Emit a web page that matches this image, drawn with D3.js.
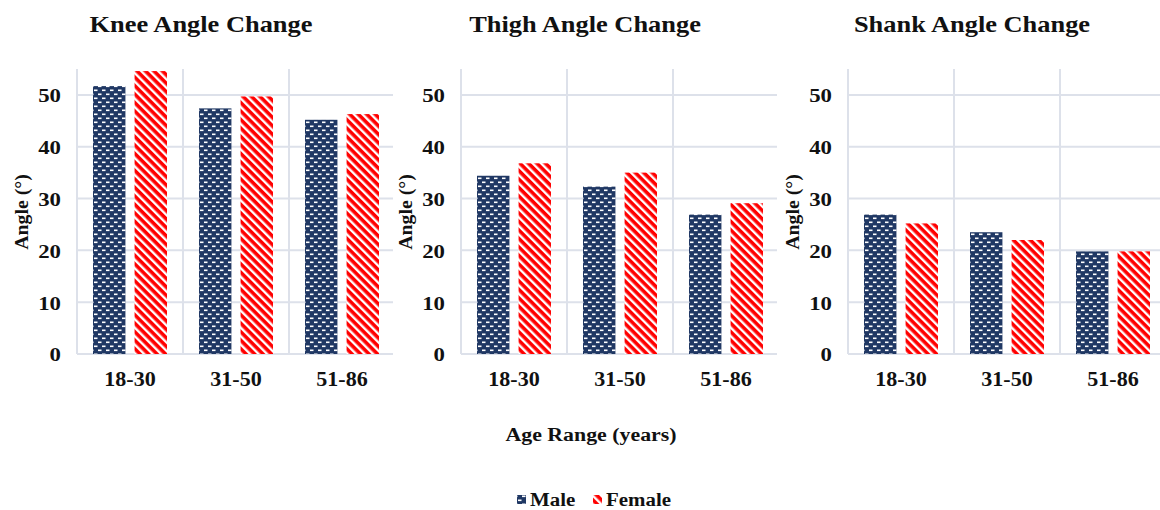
<!DOCTYPE html>
<html>
<head>
<meta charset="utf-8">
<script src="https://cdn.jsdelivr.net/npm/d3@7"></script>
<style>
  body { margin: 0; background: #fff; }
  svg text { font-family: "Liberation Serif", "Times New Roman", serif; font-weight: bold; fill: #111; }
</style>
</head>
<body>
<svg id="chart" width="1160" height="510"></svg>
<script>
const categories = ["18-30", "31-50", "51-86"];
const series = ["Male", "Female"];
const titles = ["Knee Angle Change", "Thigh Angle Change", "Shank Angle Change"];
const kneeMale = [51.7, 47.4, 45.2];
const kneeFemale = [54.6, 49.7, 46.3];
const thighMale = [34.4, 32.3, 26.9];
const thighFemale = [36.8, 35.0, 29.1];
const shankMale = [26.9, 23.5, 19.8];
const shankFemale = [25.2, 22.0, 19.8];
const yTicks = [0, 10, 20, 30, 40, 50];

const panels = [
  { title: titles[0], male: kneeMale, female: kneeFemale, left: 77 },
  { title: titles[1], male: thighMale, female: thighFemale, left: 461 },
  { title: titles[2], male: shankMale, female: shankFemale, left: 848 }
];

const svg = d3.select("#chart");
const gridColor = "#dde1ea";
const navy = "#203864";
const red = "#ff0000";

// fill patterns
const defs = svg.append("defs");
const pm = defs.append("pattern").attr("id", "pat-male")
  .attr("patternUnits", "userSpaceOnUse").attr("width", 8).attr("height", 8);
pm.append("rect").attr("width", 8).attr("height", 8).attr("fill", navy);
pm.append("rect").attr("x", 1).attr("y", 1.5).attr("width", 3.5).attr("height", 1.6).attr("fill", "#fff");
pm.append("rect").attr("x", 5).attr("y", 5.5).attr("width", 3.5).attr("height", 1.6).attr("fill", "#fff");
pm.append("rect").attr("x", -3).attr("y", 5.5).attr("width", 3.5).attr("height", 1.6).attr("fill", "#fff");

const pf = defs.append("pattern").attr("id", "pat-female")
  .attr("patternUnits", "userSpaceOnUse").attr("width", 6).attr("height", 6)
  .attr("patternTransform", "rotate(-45)");
pf.append("rect").attr("width", 6).attr("height", 6).attr("fill", red);
pf.append("rect").attr("x", 0).attr("y", 0).attr("width", 2.4).attr("height", 6).attr("fill", "#fff");

const fills = { Male: "url(#pat-male)", Female: "url(#pat-female)" };

const y = d3.scaleLinear().domain([0, 55]).range([354, 69]);

panels.forEach(p => {
  const g = svg.append("g");
  const x0 = d3.scaleBand().domain(categories).range([p.left, p.left + 318]);
  const x1 = d3.scaleBand().domain(series).range([16, x0.bandwidth() - 16]).paddingInner(0.22);

  // grid
  g.selectAll(".hgrid").data(yTicks).join("line")
    .attr("x1", p.left).attr("x2", p.left + 316)
    .attr("y1", d => y(d)).attr("y2", d => y(d))
    .attr("stroke", gridColor).attr("stroke-width", 2);
  g.selectAll(".vgrid").data(categories).join("line")
    .attr("x1", d => x0(d)).attr("x2", d => x0(d))
    .attr("y1", y(55)).attr("y2", y(0))
    .attr("stroke", gridColor).attr("stroke-width", 2);

  // bars
  const rows = categories.map((c, i) => ({ c, vals: [
    { s: "Male", v: p.male[i] }, { s: "Female", v: p.female[i] }] }));
  g.selectAll(".cat").data(rows).join("g")
    .attr("transform", d => `translate(${x0(d.c)},0)`)
    .selectAll("rect").data(d => d.vals).join("rect")
    .attr("x", d => x1(d.s))
    .attr("width", x1.bandwidth())
    .attr("y", d => y(d.v))
    .attr("height", d => y(0) - y(d.v))
    .attr("fill", d => fills[d.s]);

  // axes
  const ya = g.append("g").attr("transform", `translate(${p.left - 16},0)`)
    .call(d3.axisLeft(y).tickValues(yTicks).tickSize(0).tickPadding(0));
  ya.select(".domain").remove();
  ya.selectAll("text").style("font-size", "19px").attr("fill", "#111")
    .attr("dy", "0.36em").attr("transform", "scale(1.2,1)");

  const xa = g.append("g").attr("transform", `translate(0,${y(0)})`)
    .call(d3.axisBottom(x0).tickSize(0).tickPadding(0));
  xa.select(".domain").remove();
  xa.selectAll("text").style("font-size", "21px").attr("fill", "#111")
    .attr("dy", 0).attr("y", 32).attr("transform", "scale(1.05,1)");

  // title
  g.append("text").attr("transform", `translate(${x0.range()[0] + 124},32) scale(1.1,1)`)
    .attr("text-anchor", "middle").style("font-size", "24px").text(p.title);

  // y label
  g.append("text")
    .attr("transform", `translate(${p.left - 49},${212}) rotate(-90) scale(1.1,1)`)
    .attr("text-anchor", "middle").style("font-size", "18px").text("Angle (°)");
});

svg.append("text").attr("transform", "translate(591,441) scale(1.15,1)").attr("text-anchor", "middle")
  .style("font-size", "19px").text("Age Range (years)");

// legend
const legend = svg.append("g").attr("transform", "translate(517,506)");
const legendItems = [{ s: "Male", x: 0 }, { s: "Female", x: 76 }];
const li = legend.selectAll("g").data(legendItems).join("g")
  .attr("transform", d => `translate(${d.x},0)`);
li.append("rect").attr("x", 0).attr("y", -11).attr("width", 9).attr("height", 9)
  .attr("fill", d => fills[d.s]);
li.append("text").attr("x", 0).attr("y", 0)
  .attr("transform", "translate(13,0) scale(1.1,1)")
  .style("font-size", "19px").text(d => d.s);
</script>
</body>
</html>
